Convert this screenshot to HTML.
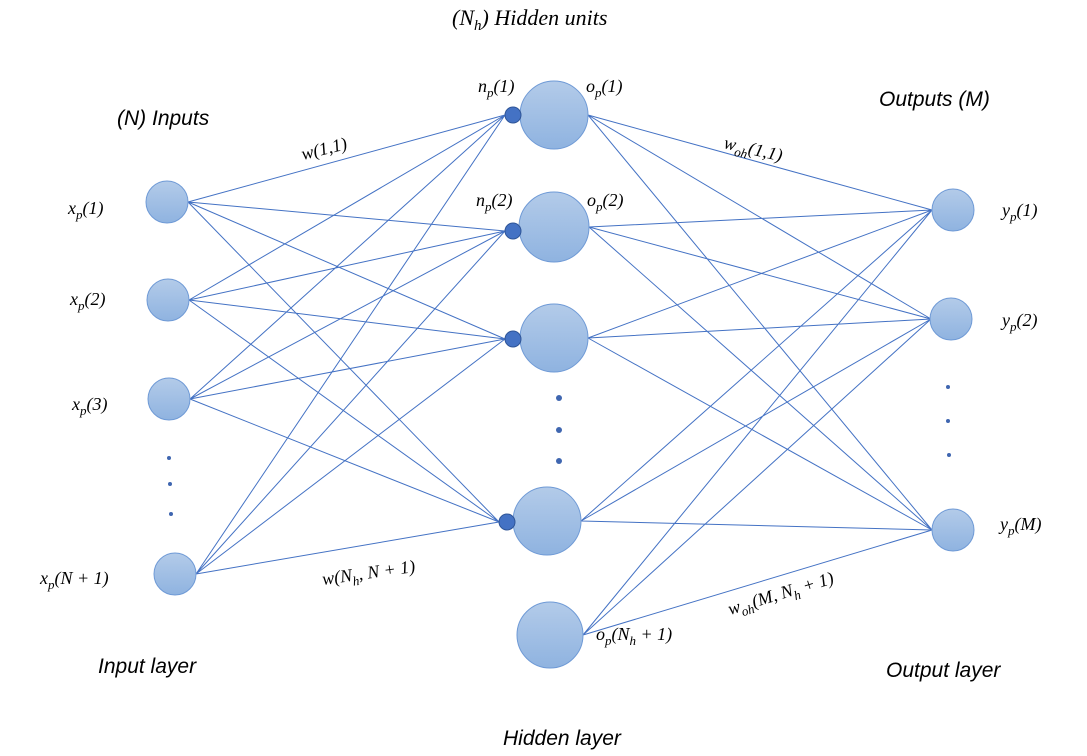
<!DOCTYPE html>
<html><head><style>
body{margin:0;background:#fff}
svg{display:block}
.m{font-family:"Liberation Serif",serif;font-style:italic;font-size:18px;fill:#000}
.s{font-family:"Liberation Sans",sans-serif;font-style:italic;font-size:21px;fill:#000}
</style></head><body>
<svg width="1087" height="756" viewBox="0 0 1087 756" xmlns="http://www.w3.org/2000/svg">
<defs>
<linearGradient id="g" x1="0" y1="0" x2="0" y2="1">
<stop offset="0" stop-color="#b3cbe9"/><stop offset="1" stop-color="#8fb3e0"/>
</linearGradient>
</defs>
<g stroke="#4472c4" stroke-width="1">
<path d="M188 202L505 115M188 202L505 231M188 202L505 339M188 202L499 522
M189 300L505 115M189 300L505 231M189 300L505 339M189 300L499 522
M190 399L505 115M190 399L505 231M190 399L505 339M190 399L499 522
M196 574L505 115M196 574L505 231M196 574L505 339M196 574L499 522
M588 115L932 210M588 115L931 319M588 115L932 530
M589 227L932 210M589 227L931 319M589 227L932 530
M588 338L932 210M588 338L931 319M588 338L932 530
M581 521L932 210M581 521L931 319M581 521L932 530
M583 635L932 210M583 635L931 319M583 635L932 530" fill="none"/>
</g>
<g fill="url(#g)" stroke="#6f9ad6" stroke-width="1">
<circle cx="167" cy="202" r="21"/><circle cx="168" cy="300" r="21"/><circle cx="169" cy="399" r="21"/><circle cx="175" cy="574" r="21"/>
<circle cx="554" cy="115" r="34"/><circle cx="554" cy="227" r="35"/><circle cx="554" cy="338" r="34"/><circle cx="547" cy="521" r="34"/><circle cx="550" cy="635" r="33"/>
<circle cx="953" cy="210" r="21"/><circle cx="951" cy="319" r="21"/><circle cx="953" cy="530" r="21"/>
</g>
<g fill="#4472c4" stroke="#2f5597" stroke-width="1">
<circle cx="513" cy="115" r="8"/><circle cx="513" cy="231" r="8"/><circle cx="513" cy="339" r="8"/><circle cx="507" cy="522" r="8"/>
</g>
<g fill="#3f66b0">
<circle cx="169" cy="458" r="2"/><circle cx="170" cy="484" r="2"/><circle cx="171" cy="514" r="2"/>
<circle cx="559" cy="398" r="3"/><circle cx="559" cy="430" r="3"/><circle cx="559" cy="461" r="3"/>
<circle cx="948" cy="387" r="2"/><circle cx="948" cy="421" r="2"/><circle cx="949" cy="455" r="2"/>
</g>
<text class="m" x="452" y="25" style="font-size:22px">(N<tspan dy="5" font-size="15">h</tspan><tspan dy="-5">) Hidden units</tspan></text>
<text class="s" x="117" y="125">(N) Inputs</text>
<text class="s" x="879" y="106">Outputs (M)</text>
<text class="s" x="98" y="673">Input layer</text>
<text class="s" x="886" y="677">Output layer</text>
<text class="s" x="503" y="745">Hidden layer</text>
<text class="m" x="68" y="214">x<tspan dy="5" font-size="13">p</tspan><tspan dy="-5">(1)</tspan></text>
<text class="m" x="70" y="305">x<tspan dy="5" font-size="13">p</tspan><tspan dy="-5">(2)</tspan></text>
<text class="m" x="72" y="410">x<tspan dy="5" font-size="13">p</tspan><tspan dy="-5">(3)</tspan></text>
<text class="m" x="40" y="584">x<tspan dy="5" font-size="13">p</tspan><tspan dy="-5">(N + 1)</tspan></text>
<text class="m" x="478" y="92">n<tspan dy="5" font-size="13">p</tspan><tspan dy="-5">(1)</tspan></text>
<text class="m" x="476" y="206">n<tspan dy="5" font-size="13">p</tspan><tspan dy="-5">(2)</tspan></text>
<text class="m" x="586" y="92">o<tspan dy="5" font-size="13">p</tspan><tspan dy="-5">(1)</tspan></text>
<text class="m" x="587" y="206">o<tspan dy="5" font-size="13">p</tspan><tspan dy="-5">(2)</tspan></text>
<text class="m" x="596" y="640">o<tspan dy="5" font-size="13">p</tspan><tspan dy="-5">(N</tspan><tspan dy="5" font-size="13">h</tspan><tspan dy="-5"> + 1)</tspan></text>
<text class="m" x="1002" y="216">y<tspan dy="5" font-size="13">p</tspan><tspan dy="-5">(1)</tspan></text>
<text class="m" x="1002" y="326">y<tspan dy="5" font-size="13">p</tspan><tspan dy="-5">(2)</tspan></text>
<text class="m" x="1000" y="530">y<tspan dy="5" font-size="13">p</tspan><tspan dy="-5">(M)</tspan></text>
<text class="m" x="303" y="160" transform="rotate(-14 303 160)">w(1,1)</text>
<text class="m" x="723" y="148" transform="rotate(13 723 148)">w<tspan dy="5" font-size="13">oh</tspan><tspan dy="-5">(1,1)</tspan></text>
<text class="m" x="323" y="585" transform="rotate(-8 323 585)">w(N<tspan dy="5" font-size="13">h</tspan><tspan dy="-5">, N + 1)</tspan></text>
<text class="m" x="730" y="615" transform="rotate(-17 730 615)">w<tspan dy="5" font-size="13">oh</tspan><tspan dy="-5">(M, N</tspan><tspan dy="5" font-size="13">h</tspan><tspan dy="-5"> + 1)</tspan></text>
</svg>
</body></html>
